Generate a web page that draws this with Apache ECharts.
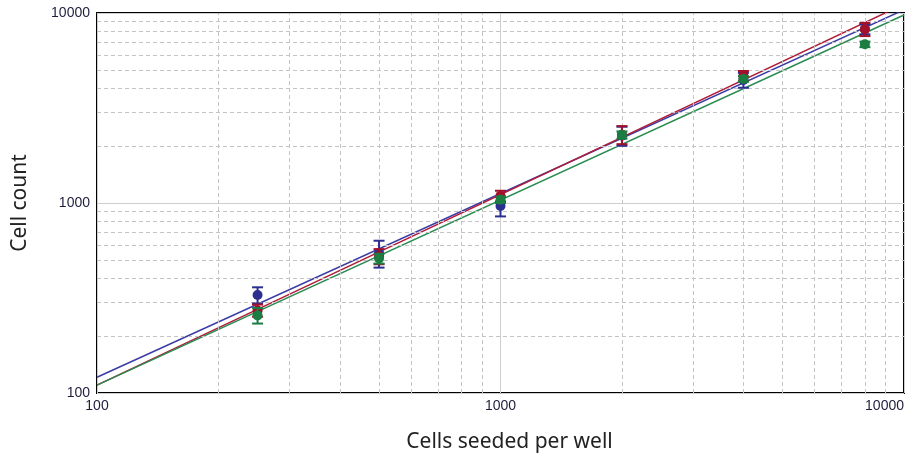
<!DOCTYPE html>
<html>
<head>
<meta charset="utf-8">
<script src="https://cdn.jsdelivr.net/npm/echarts@6/dist/echarts.min.js"></script>
<style>html,body{margin:0;padding:0;background:#fff;}#c{width:922px;height:456px;}</style>
</head>
<body>
<div id="c"></div>
<script>
// Data
const seeded = [250, 500, 1000, 2000, 4000, 8000];
const blueMean = [328, 545, 965, 2260, 4440, 8225];
const blueErr = [32, 88, 115, 260, 400, 500];
const redMean = [272, 524, 1090, 2290, 4660, 8210];
const redErr = [20, 48, 70, 250, 290, 650];
const greenMean = [256, 510, 1040, 2280, 4500, 6840];
const greenErr = [24, 30, 40, 100, 150, 230];
// fitted power-law lines (endpoints read at x = 100 and x = 10000)
const fitX = [100, 10000];
const blueFit = [121, 10400];
const redFit = [110, 11140];
const greenFit = [110, 9760];
// minor grid values
const minorGrid = [200, 300, 400, 500, 600, 700, 800, 900, 2000, 3000, 4000, 5000, 6000, 7000, 8000, 9000];

const colors = { blue: '#2b2f8f', red: '#a3102a', green: '#1b7d42' };
const lineColors = { blue: '#3c3ca6', red: '#b01c38', green: '#2a8c52' };

function pts(xs, ys) { return xs.map((x, i) => [x, ys[i]]); }

function errSeries(mean, err, color, z) {
  return {
    type: 'custom', z: z, silent: true,
    data: seeded.map((x, i) => [x, mean[i] - err[i], mean[i] + err[i]]),
    renderItem: function (params, api) {
      const lo = api.coord([api.value(0), api.value(1)]);
      const hi = api.coord([api.value(0), api.value(2)]);
      const w = 5.5;
      const st = { stroke: color, lineWidth: 2 };
      return { type: 'group', children: [
        { type: 'line', shape: { x1: lo[0], y1: lo[1], x2: hi[0], y2: hi[1] }, style: st },
        { type: 'line', shape: { x1: lo[0] - w, y1: lo[1], x2: lo[0] + w, y2: lo[1] }, style: st },
        { type: 'line', shape: { x1: hi[0] - w, y1: hi[1], x2: hi[0] + w, y2: hi[1] }, style: st }
      ]};
    }
  };
}
function markerSeries(mean, color, z) {
  return { type: 'scatter', z: z, silent: true, symbol: 'circle', symbolSize: 10,
    itemStyle: { color: color, opacity: 1 }, data: pts(seeded, mean) };
}
function fitSeries(ys, color, z) {
  return { type: 'line', z: z, silent: true, symbol: 'none', clip: true,
    lineStyle: { color: color, width: 1.5 }, data: pts(fitX, ys) };
}

const labelFont = { fontFamily: 'Liberation Sans', fontSize: 14, color: '#1e1e3c' };
const chart = echarts.init(document.getElementById('c'), null, { renderer: 'canvas' });
chart.setOption({
  animation: false,
  backgroundColor: '#fff',
  grid: { left: 97, top: 13, right: 18, bottom: 63, containLabel: false, outerBoundsMode: 'none',
    show: true, borderColor: '#000', borderWidth: 2, backgroundColor: '#fff' },
  xAxis: {
    type: 'log', logBase: 10, min: 100, max: 10000,
    name: 'Cells seeded per well', nameLocation: 'middle', nameGap: 39,
    nameTextStyle: { fontFamily: 'Noto Sans', fontSize: 21, color: '#222', padding: [0, 0, 0, 18] },
    axisLine: { show: false }, axisTick: { show: false },
    axisLabel: Object.assign({ margin: 6, formatter: v => String(Math.round(v)), alignMaxLabel: 'right' }, labelFont),
    splitLine: { show: true, lineStyle: { color: '#cfcfcf', width: 1 } }
  },
  yAxis: {
    type: 'log', logBase: 10, min: 100, max: 10000,
    name: 'Cell count', nameLocation: 'middle', nameGap: 66,
    nameTextStyle: { fontFamily: 'Noto Sans', fontSize: 21, color: '#222' },
    axisLine: { show: false }, axisTick: { show: false },
    axisLabel: Object.assign({ margin: 7, formatter: v => String(Math.round(v)) }, labelFont),
    splitLine: { show: true, lineStyle: { color: '#cfcfcf', width: 1 } }
  },
  series: [
    { type: 'line', data: [], silent: true, z: 1,
      markLine: { silent: true, symbol: 'none', label: { show: false },
        lineStyle: { color: '#c4c4c4', type: [4, 3], width: 1 },
        data: minorGrid.map(v => ({ xAxis: v })).concat(minorGrid.map(v => ({ yAxis: v }))) } },
    fitSeries(blueFit, lineColors.blue, 3),
    fitSeries(redFit, lineColors.red, 3),
    fitSeries(greenFit, lineColors.green, 3),
    errSeries(blueMean, blueErr, colors.blue, 5),
    markerSeries(blueMean, colors.blue, 6),
    errSeries(redMean, redErr, colors.red, 7),
    markerSeries(redMean, colors.red, 8),
    errSeries(greenMean, greenErr, colors.green, 9),
    markerSeries(greenMean, colors.green, 10)
  ]
});
</script>
</body>
</html>
